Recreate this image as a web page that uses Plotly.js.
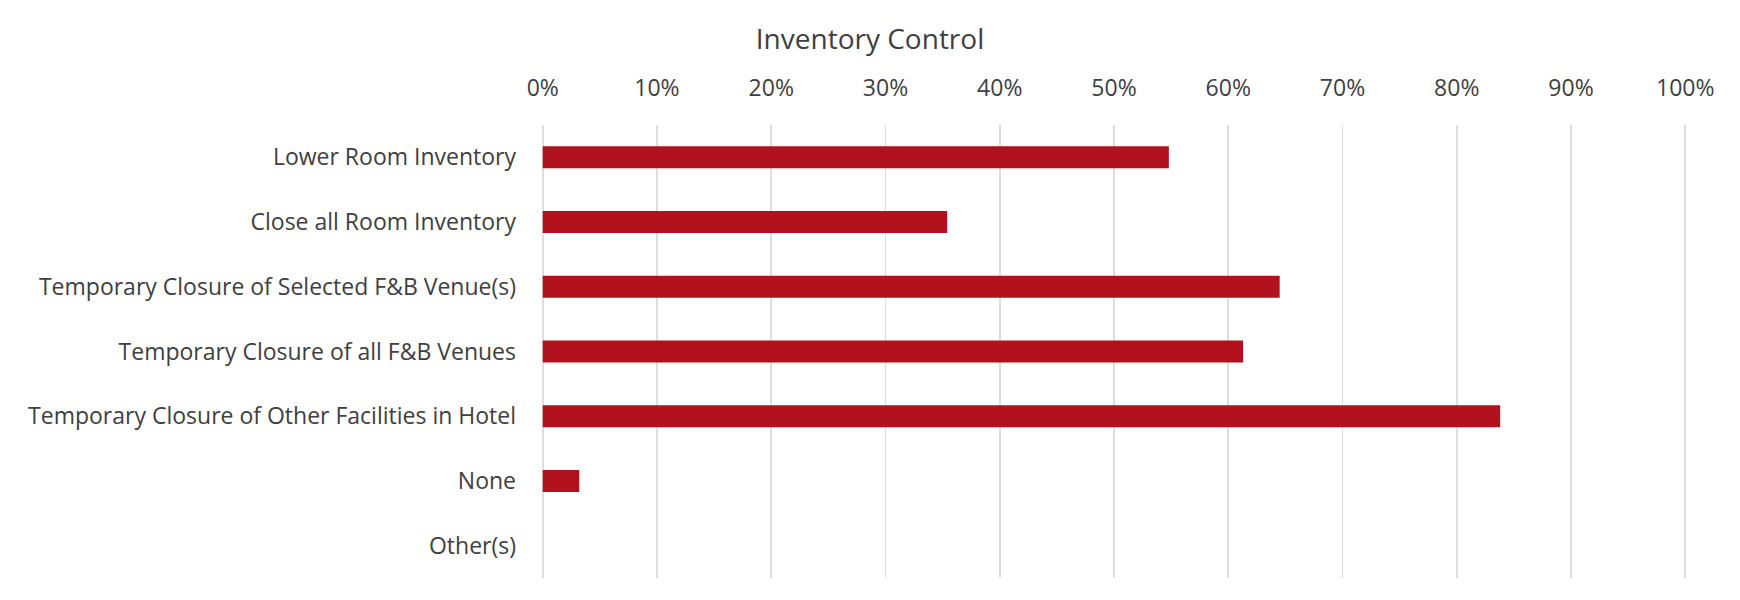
<!DOCTYPE html>
<html>
<head>
<meta charset="utf-8">
<script src="https://cdn.plot.ly/plotly-3.0.1.min.js"></script>
<style>html,body{margin:0;padding:0;background:#fff;}#chart{width:1740px;height:600px;}</style>
</head>
<body>
<div id="chart"></div>
<script>
const categories = [
  "Lower Room Inventory",
  "Close all Room Inventory",
  "Temporary Closure of Selected F&B Venue(s)",
  "Temporary Closure of all F&B Venues",
  "Temporary Closure of Other Facilities in Hotel",
  "None",
  "Other(s)"
];
const values = [0.548, 0.354, 0.645, 0.613, 0.838, 0.032, 0];
const tickVals = [0, 0.1, 0.2, 0.3, 0.4, 0.5, 0.6, 0.7, 0.8, 0.9, 1.0];
const tickLabels = ["0%", "10%", "20%", "30%", "40%", "50%", "60%", "70%", "80%", "90%", "100%"];

const trace = {
  type: "bar",
  orientation: "h",
  y: categories,
  x: values,
  marker: {color: "#B2121E"},
  hoverinfo: "x+y"
};

const fam = "Open Sans, Segoe UI, sans-serif";
const txt = "#404040";

const layout = {
  width: 1740,
  height: 600,
  margin: {l: 541, r: 53, t: 125, b: 22},
  paper_bgcolor: "#ffffff",
  plot_bgcolor: "#ffffff",
  font: {family: fam, color: txt},
  showlegend: false,
  bargap: 0.66,
  title: {
    text: "Inventory Control",
    font: {family: fam, color: txt, size: 28},
    x: 0.5, xref: "container", xanchor: "center",
    y: 1 - 39/600, yref: "container", yanchor: "middle"
  },
  xaxis: {
    side: "top",
    range: [-0.0015, 1.0015],
    tickvals: tickVals,
    ticktext: tickLabels,
    showgrid: true,
    gridcolor: "#dedede",
    gridwidth: 1.6,
    zeroline: false,
    showline: false,
    ticks: "",
    ticklabelstandoff: 23,
    tickfont: {family: fam, color: txt, size: 23},
    fixedrange: true
  },
  yaxis: {
    autorange: "reversed",
    type: "category",
    showgrid: false,
    zeroline: false,
    showline: false,
    ticks: "",
    ticklabelstandoff: 24,
    tickfont: {family: fam, color: txt, size: 23},
    fixedrange: true
  }
};

Plotly.newPlot("chart", [trace], layout, {displayModeBar: false, staticPlot: true});
</script>
</body>
</html>
